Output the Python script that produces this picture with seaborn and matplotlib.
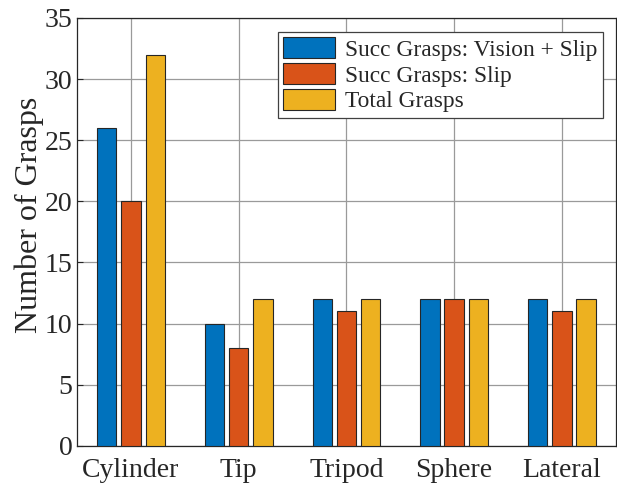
import pandas as pd
import matplotlib
matplotlib.use("Agg")
import matplotlib.pyplot as plt
import seaborn as sns

# data
grasp_types = ["Cylinder", "Tip", "Tripod", "Sphere", "Lateral"]
succ_vision_slip = [26, 10, 12, 12, 12]
succ_slip = [20, 8, 11, 12, 11]
total_grasps = [32, 12, 12, 12, 12]
series_names = ["Succ Grasps: Vision + Slip", "Succ Grasps: Slip", "Total Grasps"]
colors = ["#0072BD", "#D95319", "#EDB120"]

df = pd.DataFrame({"Grasp": grasp_types,
                   series_names[0]: succ_vision_slip,
                   series_names[1]: succ_slip,
                   series_names[2]: total_grasps})
df = df.melt(id_vars="Grasp", var_name="Series", value_name="Count")

sns.set_style("ticks")
plt.rcParams["font.family"] = ["Liberation Serif", "DejaVu Serif"]

fig = plt.figure(figsize=(6.17, 4.84), dpi=100)
ax = fig.add_axes([0.125, 0.079, 0.873, 0.884])

sns.barplot(data=df, x="Grasp", y="Count", hue="Series", hue_order=series_names,
            palette=colors, saturation=1, width=0.675, gap=0.2, edgecolor="#262626",
            linewidth=0.8, ax=ax, zorder=3)

ax.set_xlim(-0.5, 4.5)
ax.set_ylim(0, 35)
ax.set_yticks(range(0, 36, 5))
ax.set_xlabel("")
ax.set_ylabel("Number of Grasps", fontsize=23)
ax.yaxis.set_label_coords(-0.062, 0.54)
ax.tick_params(axis="both", labelsize=20, direction="in", length=4, colors="#262626")
ax.tick_params(axis="x", pad=9)
ax.grid(True, color="#9a9a9a", linewidth=0.9, zorder=0)
ax.set_axisbelow(True)
for s in ax.spines.values():
    s.set_visible(True)
    s.set_color("#262626")
    s.set_linewidth(0.9)

leg = ax.legend(loc="upper right", fontsize=16.8, frameon=True, fancybox=False,
                edgecolor="#404040", framealpha=1, handlelength=2.2, handleheight=1.0,
                borderpad=0.25, labelspacing=0.1, handletextpad=0.45,
                borderaxespad=0, bbox_to_anchor=(0.977, 0.968))
leg.get_frame().set_linewidth(0.9)

fig.savefig("out.png", dpi=100)
